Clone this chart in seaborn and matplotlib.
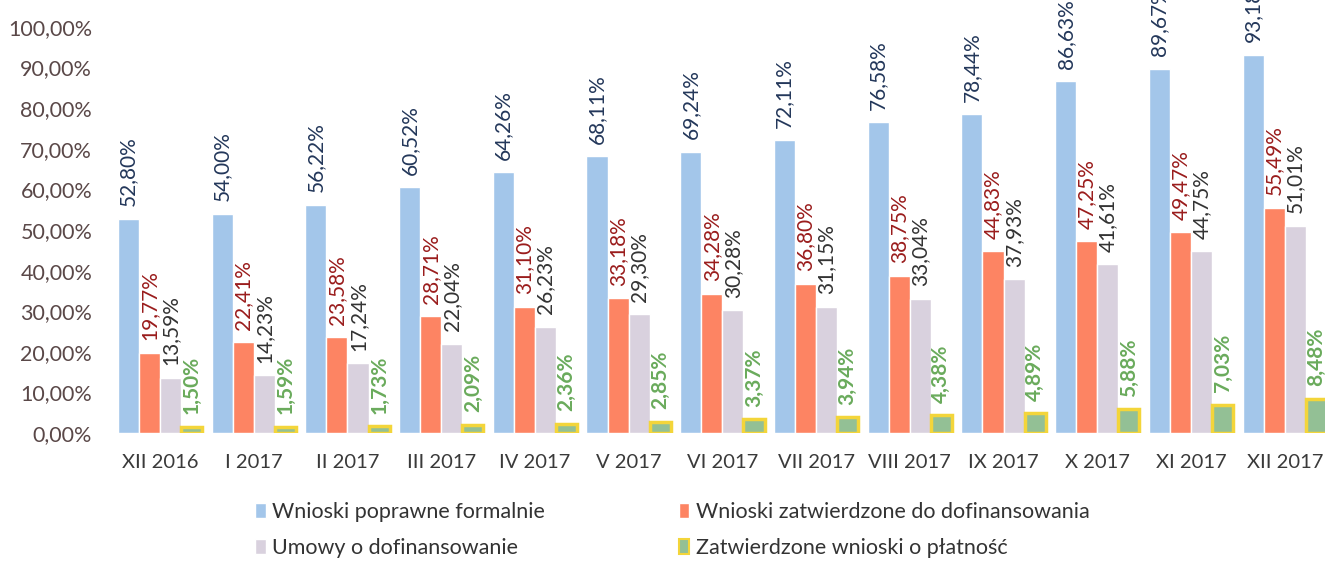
import matplotlib
matplotlib.use('Agg')
import matplotlib.pyplot as plt
import seaborn as sns
import pandas as pd
from matplotlib.patches import Patch

# data
months = ['XII 2016', 'I 2017', 'II 2017', 'III 2017', 'IV 2017', 'V 2017', 'VI 2017',
          'VII 2017', 'VIII 2017', 'IX 2017', 'X 2017', 'XI 2017', 'XII 2017']
series = ['Wnioski poprawne formalnie', 'Wnioski zatwierdzone do dofinansowania',
          'Umowy o dofinansowanie', 'Zatwierdzone wnioski o płatność']
poprawne = [52.80, 54.00, 56.22, 60.52, 64.26, 68.11, 69.24, 72.11, 76.58, 78.44, 86.63, 89.67, 93.18]
zatwierdzone = [19.77, 22.41, 23.58, 28.71, 31.10, 33.18, 34.28, 36.80, 38.75, 44.83, 47.25, 49.47, 55.49]
umowy = [13.59, 14.23, 17.24, 22.04, 26.23, 29.30, 30.28, 31.15, 33.04, 37.93, 41.61, 44.75, 51.01]
platnosc = [1.50, 1.59, 1.73, 2.09, 2.36, 2.85, 3.37, 3.94, 4.38, 4.89, 5.88, 7.03, 8.48]

colors = ['#a3c6ea', '#fd8463', '#d9d1de', '#93c095']
label_colors = ['#23375a', '#9a1c1c', '#333333', '#6aab5c']

df = pd.DataFrame({
    'miesiac': months * 4,
    'seria': [s for s in series for _ in months],
    'wartosc': poprawne + zatwierdzone + umowy + platnosc,
})

sns.set_theme(style='white')
plt.rcParams['font.family'] = ['Lato', 'DejaVu Sans']

fig = plt.figure(figsize=(13.25, 5.61), dpi=100)
ax = fig.add_axes([0.079, 0.228, 0.921, 0.724])

sns.barplot(data=df, x='miesiac', y='wartosc', hue='seria', hue_order=series,
            palette=colors, width=0.9, gap=0, saturation=1, legend=False, ax=ax)

fmt = lambda v: f'{v:.2f}'.replace('.', ',') + '%'
for i, cont in enumerate(ax.containers):
    if i == 3:
        for p in cont.patches:
            p.set_edgecolor('#f3d53a')
            p.set_linewidth(2.5)
    ax.bar_label(cont, labels=[fmt(v) for v in cont.datavalues], rotation=90, padding=9,
                 fontsize=15, color=label_colors[i], fontweight='bold' if i == 3 else 'normal',
                 clip_on=False)

ax.set_ylim(0, 100)
ax.set_xlim(-0.59, 12.43)
ax.set_yticks(range(0, 101, 10))
ax.set_yticklabels([f'{t},00%' for t in range(0, 101, 10)])
ax.tick_params(axis='y', length=0, pad=9, labelsize=15.5, labelcolor='#5a4848')
ax.tick_params(axis='x', length=0, pad=15, labelsize=14.5, labelcolor='#3a3a3a')
ax.set_xlabel('')
ax.set_ylabel('')
sns.despine(ax=ax, left=True, bottom=True)

handles = [Patch(facecolor=colors[0]), Patch(facecolor=colors[2]),
           Patch(facecolor=colors[1]), Patch(facecolor=colors[3], edgecolor='#f3d53a', linewidth=1.5)]
labels = [series[0], series[2], series[1], series[3]]
fig.legend(handles, labels, ncol=2, loc='upper left', bbox_to_anchor=(0.186, 0.12),
           frameon=False, fontsize=15.5, labelcolor='#333333', handlelength=0.5,
           handleheight=0.7, handletextpad=0.3, labelspacing=0.75, columnspacing=6.2,
           borderaxespad=0)

fig.savefig('out.png', dpi=100)
